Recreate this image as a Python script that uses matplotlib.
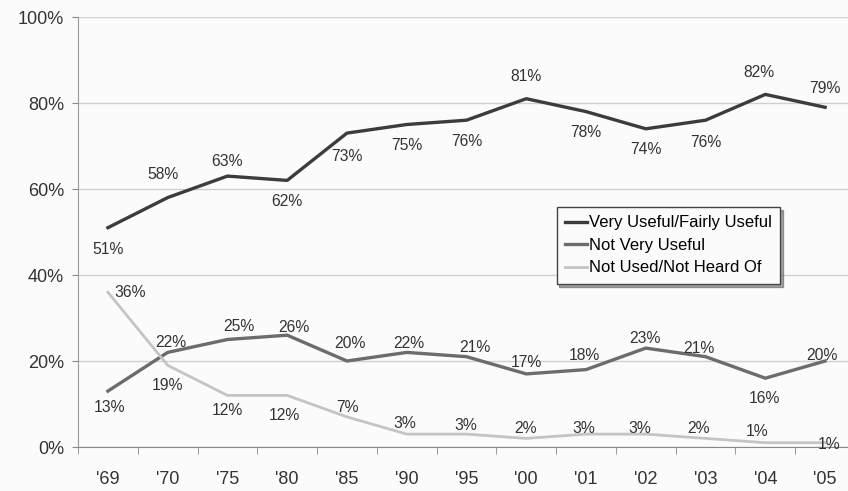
import matplotlib
matplotlib.use("Agg")
import matplotlib.pyplot as plt
from matplotlib.ticker import FixedLocator, PercentFormatter

years = ["'69", "'70", "'75", "'80", "'85", "'90", "'95", "'00", "'01", "'02", "'03", "'04", "'05"]
useful = [51, 58, 63, 62, 73, 75, 76, 81, 78, 74, 76, 82, 79]
not_very = [13, 22, 25, 26, 20, 22, 21, 17, 18, 23, 21, 16, 20]
not_used = [36, 19, 12, 12, 7, 3, 3, 2, 3, 3, 2, 1, 1]

series_names = ["Very Useful/Fairly Useful", "Not Very Useful", "Not Used/Not Heard Of"]

# label offsets in pixels (dx, dy), picked by eye
off_useful = [(0, -22), (-5, 23), (0, 15), (0, -21), (0, -23), (0, -21), (0, -21),
              (0, 22), (0, -21), (0, -21), (0, -22), (-6, 22), (0, 19)]
off_not_very = [(2, -16), (3, 10), (11, 13), (7, 8), (3, 18), (2, 9), (8, 9),
                (0, 11), (-2, 14), (-1, 10), (-7, 8), (-1, -20), (-3, 6)]
off_not_used = [(22, 0), (0, -20), (0, -15), (-3, -20), (1, 9), (-2, 11), (-1, 9),
                (-1, 10), (-2, 6), (-6, 6), (-7, 10), (-8, 11), (4, -2)]

plt.rcParams["font.family"] = ["Liberation Sans", "DejaVu Sans"]

fig = plt.figure(figsize=(8.48, 4.91), dpi=100, facecolor="#fbfbfb")
ax = fig.add_axes([78 / 848, 44 / 491, 777 / 848, 430 / 491])
ax.set_facecolor("#fbfbfb")

x = list(range(len(years)))
colors = ["#3c3c3c", "#6c6c6c", "#c4c4c4"]
widths = [2.4, 2.4, 2.0]
all_vals = [useful, not_very, not_used]
all_offs = [off_useful, off_not_very, off_not_used]

for vals, offs, name, c, lw in zip(all_vals, all_offs, series_names, colors, widths):
    ax.plot(x, vals, color=c, lw=lw, label=name, zorder=3)
    for xi, v, (dx, dy) in zip(x, vals, offs):
        ax.annotate("{}%".format(v), (xi, v), xytext=(dx, dy), textcoords="offset pixels",
                    ha="center", va="center", fontsize=11.3, color="#333333", zorder=4)

ax.set_xlim(-0.5, len(years) - 0.5)
ax.set_ylim(0, 100)
ax.set_yticks([0, 20, 40, 60, 80, 100])
ax.yaxis.set_major_formatter(PercentFormatter(decimals=0))
ax.grid(axis="y", color="#cfcfcf", lw=1)
ax.set_axisbelow(True)

ax.set_xticks(x)
ax.set_xticklabels(years)
ax.xaxis.set_minor_locator(FixedLocator([i - 0.5 for i in range(len(years) + 1)]))
ax.tick_params(axis="x", which="major", length=0, pad=17, labelsize=13, labelcolor="#333333")
ax.tick_params(axis="x", which="minor", length=5, color="#888888", direction="out")
ax.tick_params(axis="y", length=4, color="#888888", pad=6, labelsize=13, labelcolor="#333333")

for s in ["top", "right"]:
    ax.spines[s].set_visible(False)
ax.spines["left"].set_color("#999999")
ax.spines["bottom"].set_color("#888888")

leg = ax.legend(loc="upper left", bbox_to_anchor=(0.616, 0.558), borderaxespad=0,
                fontsize=12, frameon=True, fancybox=False, shadow=True,
                handlelength=1.3, handletextpad=0.15, labelspacing=0.45, borderpad=0.5)
leg.get_frame().set_edgecolor("#444444")
leg.get_frame().set_linewidth(1.0)
leg.get_frame().set_facecolor("#fbfbfb")

fig.savefig("out.png", dpi=100, facecolor=fig.get_facecolor())
